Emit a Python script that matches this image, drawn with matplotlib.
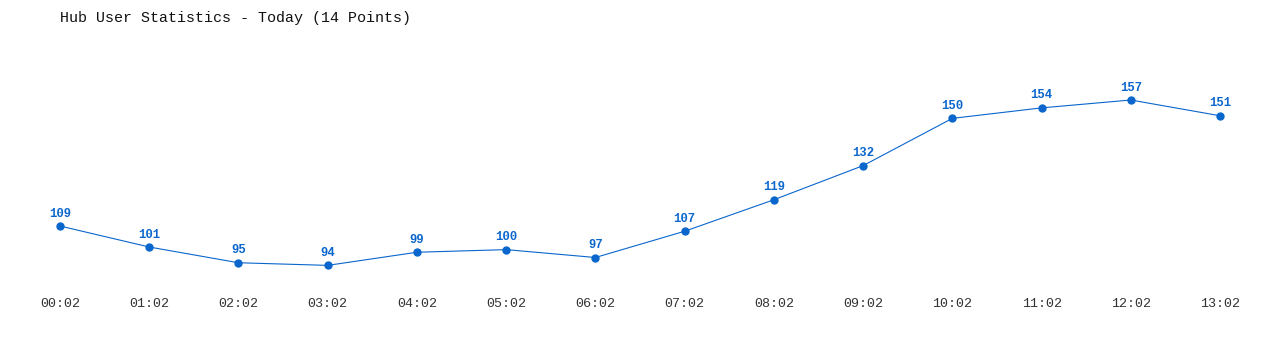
import matplotlib
matplotlib.use("Agg")
import matplotlib.pyplot as plt

# data
times = ["00:02", "01:02", "02:02", "03:02", "04:02", "05:02", "06:02",
         "07:02", "08:02", "09:02", "10:02", "11:02", "12:02", "13:02"]
users = [109, 101, 95, 94, 99, 100, 97, 107, 119, 132, 150, 154, 157, 151]

blue = "#0a66cc"
mono = ["Liberation Mono", "DejaVu Sans Mono"]

fig = plt.figure(figsize=(12.8, 3.5), dpi=100)
# axes area: pixel rows 30..290 of the 350 px figure
ax = fig.add_axes([0, 60 / 350, 1, 260 / 350])

x = list(range(len(users)))
ax.plot(x, users, color=blue, linewidth=0.8, marker="o", markersize=5)

for xi, v in zip(x, users):
    ax.annotate(str(v), (xi, v), xytext=(0, 9), textcoords="offset points",
                ha="center", va="center", fontsize=8.8, fontweight="bold",
                color=blue, family=mono)

ax.set_xlim(-0.672, 13.672)
ax.set_ylim(84.62, 183.67)
ax.set_xticks(x)
ax.set_xticklabels(times, family=mono, fontsize=9.6, color="#333333")
ax.tick_params(axis="x", length=0, pad=6)
ax.set_yticks([])
for s in ax.spines.values():
    s.set_visible(False)

fig.text(60 / 1280, 1 - 18 / 350, "Hub User Statistics - Today (14 Points)",
         ha="left", va="center", fontsize=10.8, family=mono, color="#111111")

fig.savefig("out.png", dpi=100)
